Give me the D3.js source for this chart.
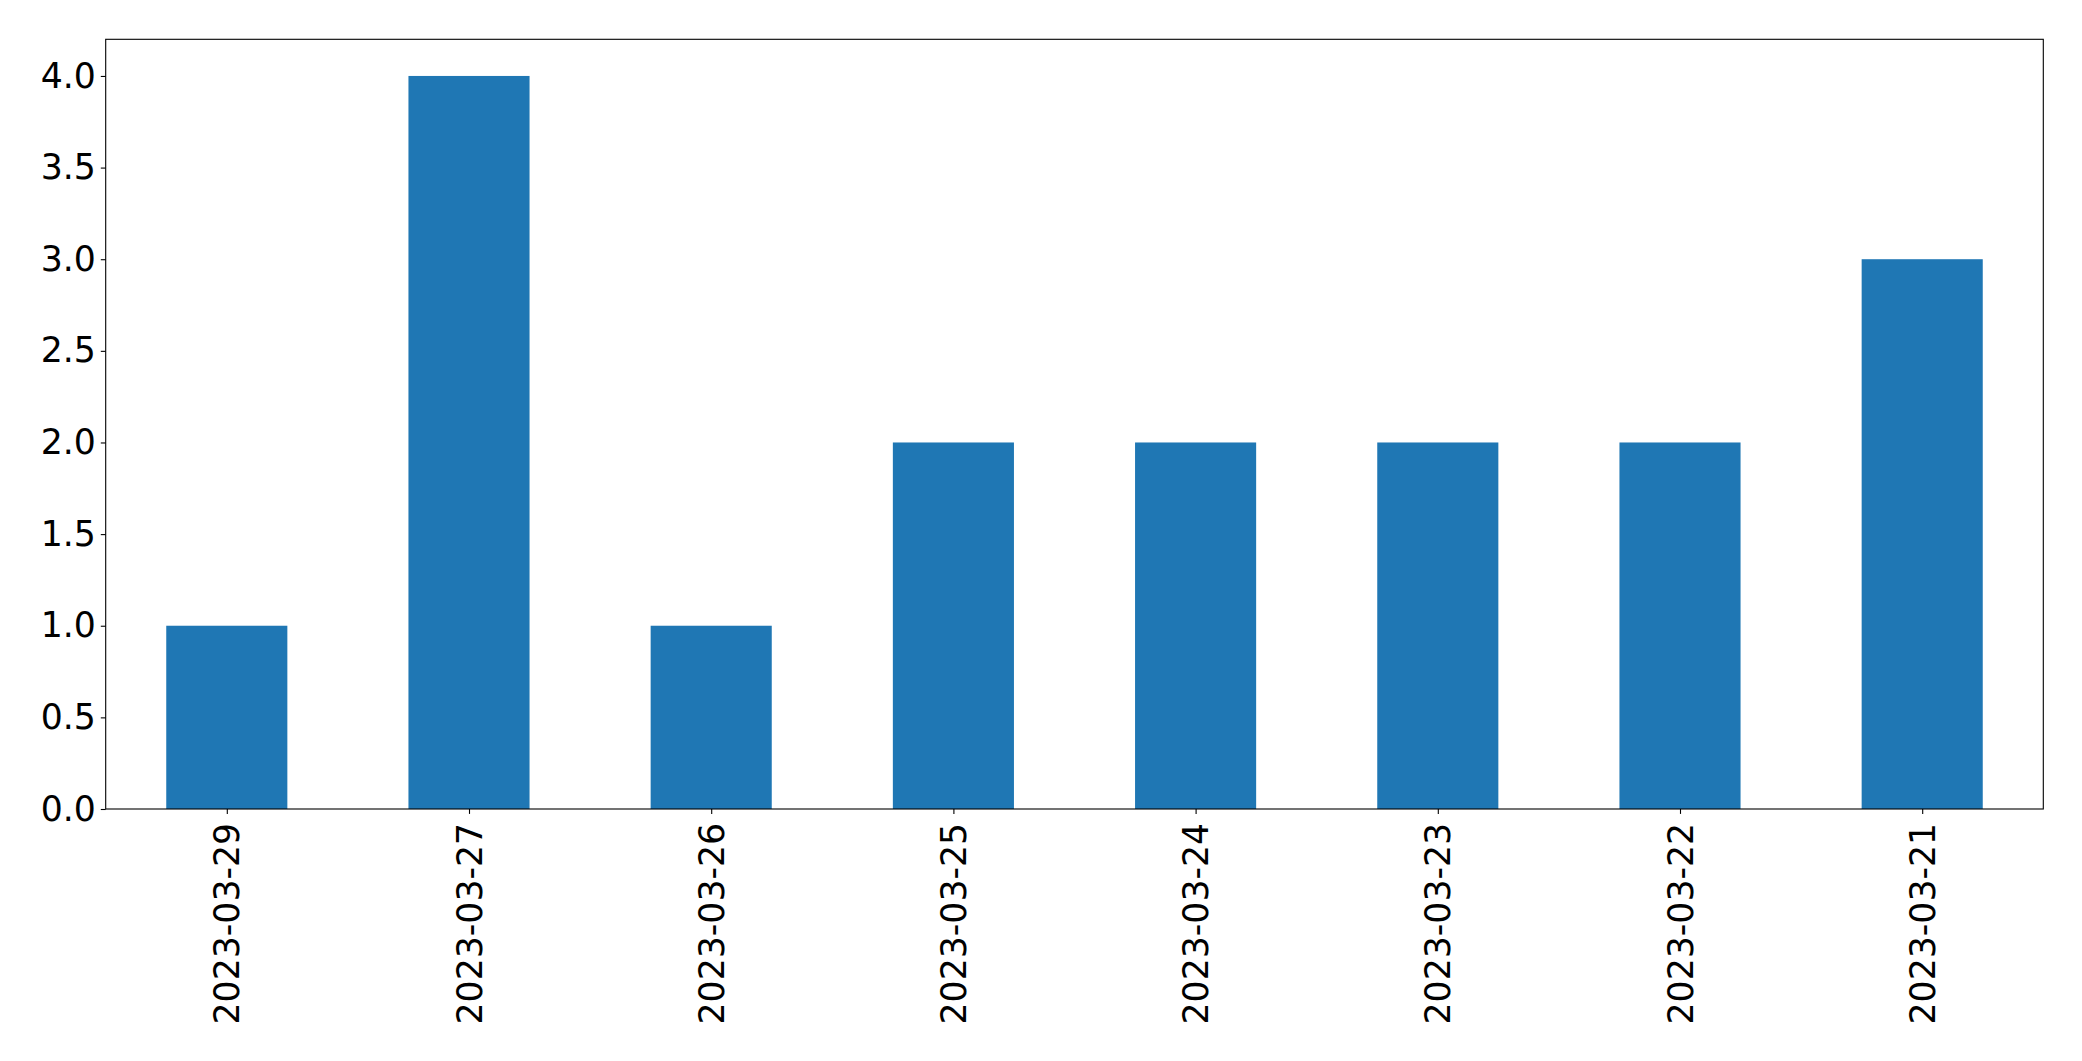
<!DOCTYPE html>
<html>
<head>
<meta charset="utf-8">
<script src="https://cdn.jsdelivr.net/npm/d3@7"></script>
<style>
html,body{margin:0;padding:0;background:#fff;}
svg{display:block;}
text{font-family:"DejaVu Sans",sans-serif;}
</style>
</head>
<body>
<script>
const categories = ["2023-03-29","2023-03-27","2023-03-26","2023-03-25","2023-03-24","2023-03-23","2023-03-22","2023-03-21"];
const values = [1, 4, 1, 2, 2, 2, 2, 3];
const yTicks = [0, 0.5, 1.0, 1.5, 2.0, 2.5, 3.0, 3.5, 4.0];

const W = 2082, H = 1061;
const L = 105.7, R = 2043.3, T = 39.3, B = 809;
const svg = d3.select("body").append("svg").attr("width", W).attr("height", H);

const x = d3.scaleLinear().domain([-0.5, categories.length - 0.5]).range([L, R]);
const y = d3.scaleLinear().domain([0, 4.2]).range([B, T]);
const barW = 0.5;

svg.append("g").selectAll("rect").data(values).join("rect")
  .attr("x", (d, i) => x(i - barW / 2))
  .attr("width", (d, i) => x(i + barW / 2) - x(i - barW / 2))
  .attr("y", d => y(d))
  .attr("height", d => y(0) - y(d))
  .attr("fill", "#1f77b4");

const fs = 34.7;
// Y axis
const yAxis = d3.axisLeft(y).tickValues(yTicks).tickFormat(d3.format(".1f")).tickSize(4.9).tickPadding(4.9);
const gy = svg.append("g").attr("transform", `translate(${L},0)`).call(yAxis);
gy.select(".domain").remove();
gy.selectAll("line").attr("stroke", "#000").attr("stroke-width", 1.1);
gy.selectAll("text").attr("font-size", fs).attr("fill", "#000").attr("font-family", "DejaVu Sans");

// X axis
const xAxis = d3.axisBottom(x).tickValues(d3.range(categories.length)).tickFormat(i => categories[i]).tickSize(4.9).tickPadding(4.9);
const gx = svg.append("g").attr("transform", `translate(0,${B})`).call(xAxis);
gx.select(".domain").remove();
gx.selectAll("line").attr("stroke", "#000").attr("stroke-width", 1.1);
gx.selectAll("text")
  .attr("font-size", fs).attr("fill", "#000").attr("font-family", "DejaVu Sans")
  .attr("transform", "rotate(-90)")
  .attr("text-anchor", "end")
  .attr("x", -(4.9 + 9))
  .attr("y", 0)
  .attr("dy", "0.35em");

// Frame
svg.append("rect").attr("x", L).attr("y", T).attr("width", R - L).attr("height", B - T)
  .attr("fill", "none").attr("stroke", "#000").attr("stroke-width", 1.1);
</script>
</body>
</html>
